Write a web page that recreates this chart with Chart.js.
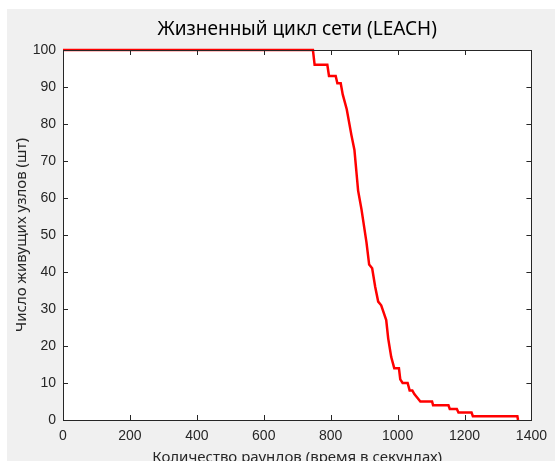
<!DOCTYPE html>
<html>
<head>
<meta charset="utf-8">
<script src="https://cdn.jsdelivr.net/npm/chart.js@4"></script>
<style>
  html, body { margin: 0; padding: 0; background: #fff; }
  #wrap { width: 555px; height: 461px; }
</style>
</head>
<body>
<div id="wrap"><canvas id="myChart" width="555" height="461"></canvas></div>
<script>
// данные: число живых узлов по раундам
const rounds = [0, 747, 752, 790, 795, 815, 820, 830, 836, 848, 862, 871, 879, 882, 892, 907, 915, 924, 933, 942, 951, 966, 972, 981, 990, 1004, 1008, 1015, 1030, 1036, 1044, 1050, 1059, 1068, 1103, 1106, 1152, 1156, 1177, 1182, 1221, 1225, 1358, 1360];
const aliveNodes = [100, 100, 96, 96, 93, 93, 91, 91, 88, 84, 77, 73, 65, 62, 57, 48, 42, 41, 36, 32, 31, 27, 22, 17, 14, 14, 11, 10, 10, 8, 8, 7, 6, 5, 5, 4, 4, 3, 3, 2, 2, 1, 1, 0];
const xTicks = [0, 200, 400, 600, 800, 1000, 1200, 1400];
const yTicks = [0, 10, 20, 30, 40, 50, 60, 70, 80, 90, 100];

const titleText = 'Жизненный цикл сети (LEACH)';
const xTitle = 'Количество раундов (время в секундах)';
const yTitle = 'Число живущих узлов (шт)';

const axisColor = '#262626';
const figBg = '#f0f0f0';

// фон фигуры, рамка, засечки внутрь и подписи
const matlabLook = {
    id: 'matlabLook',
    beforeDraw(chart) {
        const c = chart.ctx, a = chart.chartArea;
        c.save();
        c.fillStyle = '#fff';
        c.fillRect(0, 0, chart.width, chart.height);
        c.fillStyle = figBg;
        c.fillRect(7, 9, chart.width - 7, chart.height - 9);
        c.fillStyle = '#fff';
        c.fillRect(a.left, a.top, a.right - a.left, a.bottom - a.top);
        c.restore();
    },
    afterDraw(chart) {
        const c = chart.ctx, a = chart.chartArea;
        const xs = chart.scales.x, ys = chart.scales.y;
        const len = 5;
        c.save();
        c.strokeStyle = axisColor;
        c.lineWidth = 1;
        c.beginPath();
        xTicks.forEach(v => {
            const px = Math.round(xs.getPixelForValue(v)) + 0.5;
            c.moveTo(px, a.bottom); c.lineTo(px, a.bottom - len);
            c.moveTo(px, a.top); c.lineTo(px, a.top + len);
        });
        yTicks.forEach(v => {
            const py = Math.round(ys.getPixelForValue(v)) + 0.5;
            c.moveTo(a.left, py); c.lineTo(a.left + len, py);
            c.moveTo(a.right, py); c.lineTo(a.right - len, py);
        });
        c.stroke();
        c.strokeRect(Math.round(a.left) + 0.5, Math.round(a.top) + 0.5,
            Math.round(a.right - a.left), Math.round(a.bottom - a.top));

        c.fillStyle = '#000';
        c.textAlign = 'center';
        c.textBaseline = 'middle';
        c.font = '19px "Noto Sans"';
        c.fillText(titleText, (a.left + a.right) / 2, 30);

        c.fillStyle = axisColor;
        c.font = '15px "Noto Sans"';
        c.fillText(xTitle, (a.left + a.right) / 2, 458);
        c.translate(22, (a.top + a.bottom) / 2);
        c.rotate(-Math.PI / 2);
        c.fillText(yTitle, 0, 0);
        c.restore();
    }
};

const ctx = document.getElementById('myChart');
new Chart(ctx, {
    type: 'line',
    data: {
        datasets: [{
            data: rounds.map((r, i) => ({ x: r, y: aliveNodes[i] })),
            borderColor: '#ff0000',
            borderWidth: 2.5,
            pointRadius: 0,
            tension: 0,
            fill: false,
            clip: 4
        }]
    },
    options: {
        responsive: false,
        animation: false,
        layout: { padding: { left: 0, top: 50, right: 18, bottom: 0 } },
        plugins: { legend: { display: false }, tooltip: { enabled: false } },
        scales: {
            x: {
                type: 'linear',
                min: 0, max: 1400,
                afterFit: s => { s.height = 41; },
                afterBuildTicks: s => { s.ticks = xTicks.map(v => ({ value: v })); },
                grid: { display: false, drawTicks: false },
                border: { display: false },
                ticks: { padding: 8, color: axisColor, maxRotation: 0, callback: v => String(v),
                    font: { family: 'Liberation Sans', size: 14 } }
            },
            y: {
                min: 0, max: 100,
                afterFit: s => { s.width = 63; },
                afterBuildTicks: s => { s.ticks = yTicks.map(v => ({ value: v })); },
                grid: { display: false, drawTicks: false },
                border: { display: false },
                ticks: { padding: 7, color: axisColor, callback: v => String(v),
                    font: { family: 'Liberation Sans', size: 14 } }
            }
        }
    },
    plugins: [matlabLook]
});
</script>
</body>
</html>
